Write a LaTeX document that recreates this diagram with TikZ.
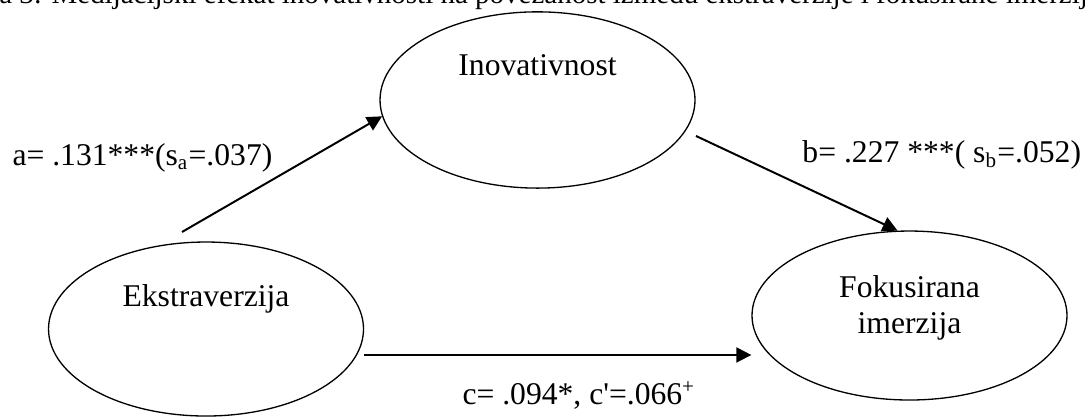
\documentclass[tikz,border=0pt]{standalone}
\usepackage{fontspec}
\setmainfont{Liberation Serif}
\usetikzlibrary{arrows.meta,shapes.geometric}

\tikzset{
  latent/.style={draw, ellipse, line width=0.5pt, inner sep=0pt,
    minimum width=4.2cm, minimum height=2.35cm},
  effect/.style={line width=0.75pt, -{Triangle[length=2mm,width=2mm]}},
  coef/.style={anchor=base west, inner sep=0pt},
}

\begin{document}
\begin{tikzpicture}[font=\fontsize{12}{13.8}\selectfont]

% Page size and crop
\def\picw{14.467}
\def\pich{5.56}
\useasboundingbox (0,0) rectangle (\picw,\pich);
\clip (0,0) rectangle (\picw,\pich);

% Caption line, cut off at the top edge
\node[coef, font=\fontsize{11}{13}\selectfont] (caption) at (-0.64,5.51)
    {Slika 3: Medijacijski efekat inovativnosti na povezanost između ekstraverzije i fokusirane imerzije};

% Latent variables
\node[latent] (ino) at (7.167,4.227) {};
\node[latent, minimum height=2.32cm] (ext) at (2.747,1.173) {};
\node[latent, minimum height=2.253cm] (fok) at (12.127,1.353) {};

\node (inolbl) at ([yshift=0.467cm]ino.center) {Inovativnost};
\node (extlbl) at ([yshift=0.4cm]ext.center) {Ekstraverzija};
\node[align=center] (foklbl) at ([yshift=0.1cm]fok.center)
    {Fokusirana\\imerzija};

% Free ends of the paths
\coordinate (astart) at (2.427,2.467);
\coordinate (bstart) at (9.28,3.747);
\coordinate (cstart) at ([yshift=-0.346cm]ext.east);

% Paths a, b and c
\draw[effect] (astart) -- (ino.186);
\draw[effect] (bstart) -- (fok.98);
\draw[effect] (cstart) -- (fok.west |- cstart);

% Coefficients
\node[coef] (alab) at (0.16,3.36)
    {a= .131***(s\textsubscript{a}=.037)};
\node[coef] (blab) at (10.693,3.387)
    {b= .227 ***( s\textsubscript{b}=.052)};
\node[coef] (clab) at (6.16,0.16)
    {c= .094*, c\textquotesingle=.066\textsuperscript{+}};

\end{tikzpicture}
\end{document}
